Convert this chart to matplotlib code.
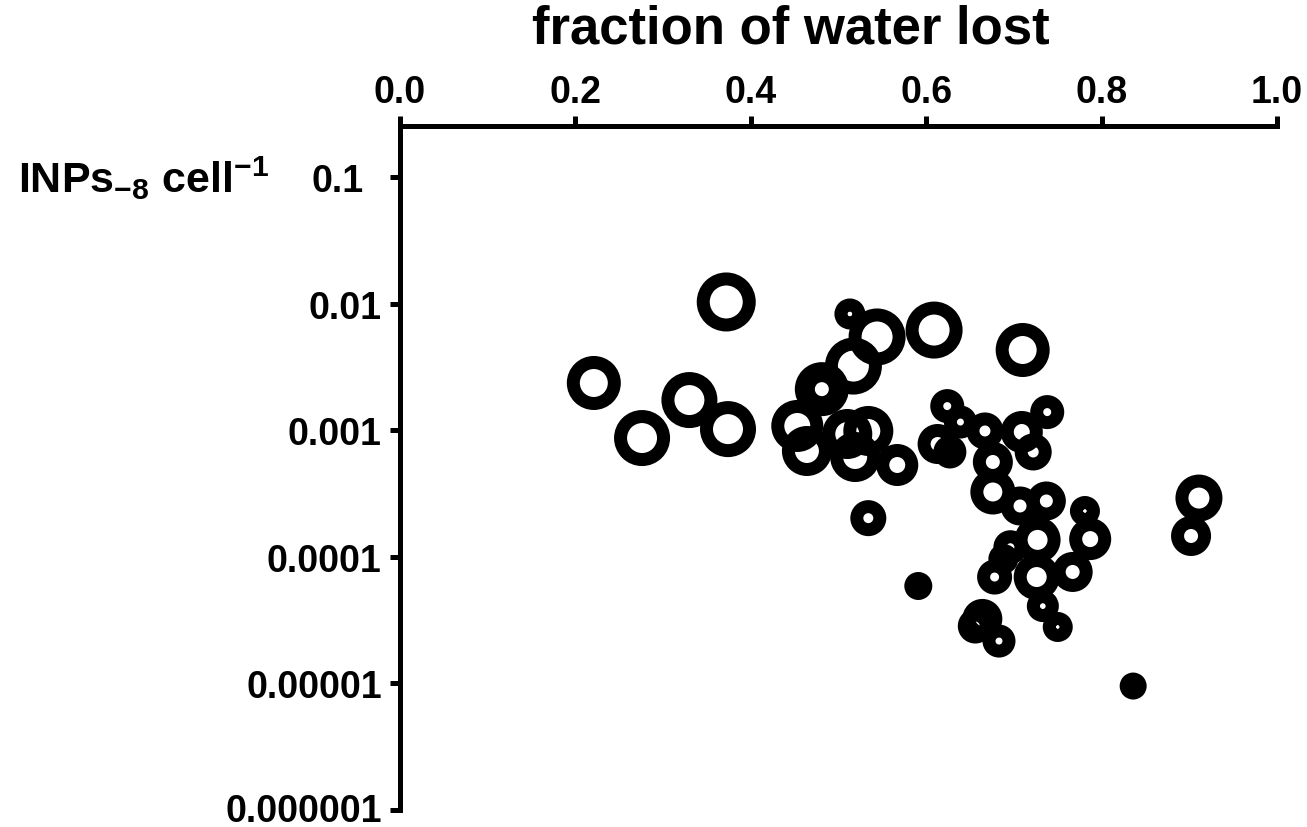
import numpy as np
import matplotlib
matplotlib.use("Agg")
import matplotlib.pyplot as plt
import matplotlib.transforms as mtransforms

plt.rcParams['font.family'] = ['Liberation Sans', 'DejaVu Sans']
plt.rcParams['font.weight'] = 'bold'
plt.rcParams['mathtext.fontset'] = 'custom'
plt.rcParams['mathtext.rm'] = 'Liberation Sans:bold'
plt.rcParams['mathtext.it'] = 'Liberation Sans:bold'
plt.rcParams['mathtext.bf'] = 'Liberation Sans:bold'

# fraction of water lost
frac_lost = [0.221, 0.276, 0.330, 0.374, 0.372, 0.513, 0.544, 0.609, 0.710, 0.517,
             0.481, 0.481, 0.453, 0.464, 0.510, 0.534, 0.519, 0.567, 0.534, 0.624,
             0.639, 0.738, 0.613, 0.627, 0.667, 0.709, 0.722, 0.676, 0.676, 0.707,
             0.737, 0.781, 0.727, 0.787, 0.696, 0.688, 0.678, 0.726, 0.767, 0.733,
             0.750, 0.664, 0.656, 0.683, 0.591, 0.911, 0.902, 0.836]
# INPs at -8 C per cell
inps = [0.00236, 0.000867, 0.00173, 0.00102, 0.0103, 0.00828, 0.00545, 0.00618, 0.00430, 0.00321,
        0.00211, 0.00211, 0.00108, 0.000685, 0.000933, 0.000986, 0.000614, 0.000531, 0.000202, 0.00155,
        0.00116, 0.00139, 0.000778, 0.000673, 0.000986, 0.000968, 0.000673, 0.000561, 0.000325, 0.000252,
        0.000276, 0.000230, 0.000136, 0.000138, 0.000119, 0.0000962, 0.0000692, 0.0000692, 0.0000759, 0.0000408,
        0.0000279, 0.0000323, 0.0000284, 0.0000216, 0.0000588, 0.000291, 0.000146, 0.00000953]
# bubble size (outer diameter)
bubble = [54, 56, 56, 56, 59, 31, 57, 57, 54, 57,
          54, 40, 52, 50, 50, 50, 50, 42, 36, 34,
          33, 34, 40, 33, 37, 42, 37, 40, 45, 39,
          39, 30, 46, 42, 34, 30, 35, 46, 40, 32,
          30, 40, 35, 33, 28, 47, 40, 27]

yticks = [1e-1, 1e-2, 1e-3, 1e-4, 1e-5, 1e-6]
ylabels = ['0.1', '0.01', '0.001', '0.0001', '0.00001', '0.000001']
xticks = [0.0, 0.2, 0.4, 0.6, 0.8, 1.0]

px = 72.0 / 100  # points per pixel
ring = 13 * px
d = np.array(bubble) * px
s = (d - ring) ** 2
fc = ['k' if b <= 29 else 'none' for b in bubble]

fig = plt.figure(figsize=(13.07, 8.28), dpi=100)
ax = fig.add_axes([400/1307, 1 - 811/828, 877/1307, (811-127)/828])

ax.scatter(frac_lost, inps, s=s, facecolors=fc, edgecolors='k', linewidths=ring)

ax.set_yscale('log')
ax.set_xlim(0, 1)
ax.set_ylim(1e-6, 10 ** (-1 + 51/126.6))
ax.set_yticks(yticks)
ax.set_yticklabels(ylabels)
ax.minorticks_off()
ax.set_xticks(xticks)
ax.set_xticklabels(['%.1f' % t for t in xticks])

ax.xaxis.tick_top()
for side in ['right', 'bottom']:
    ax.spines[side].set_visible(False)
for side in ['left', 'top']:
    ax.spines[side].set_linewidth(5 * px)
ax.tick_params(axis='both', direction='out', length=10 * px, width=5 * px, labelsize=27)
ax.tick_params(axis='y', pad=6)
ax.tick_params(axis='x', pad=4)

# the 0.1 label sits a bit further left in the original
lab = ax.get_yticklabels()[0]
lab.set_transform(lab.get_transform() + mtransforms.ScaledTranslation(-18/100, 0, fig.dpi_scale_trans))
# keep the lowest label inside the figure
lab = ax.get_yticklabels()[-1]
lab.set_transform(lab.get_transform() + mtransforms.ScaledTranslation(0, 3/100, fig.dpi_scale_trans))

fig.text(791/1307, 1 - 30/828, 'fraction of water lost', ha='center', va='center',
         fontsize=38, fontweight='bold')
fig.text(18/1307, 1 - 178/828, r'INPs$_{\mathregular{-8}}$ cell$^{\mathregular{-1}}$',
         ha='left', va='center', fontsize=31, fontweight='bold')

fig.savefig('out.png', dpi=100)
